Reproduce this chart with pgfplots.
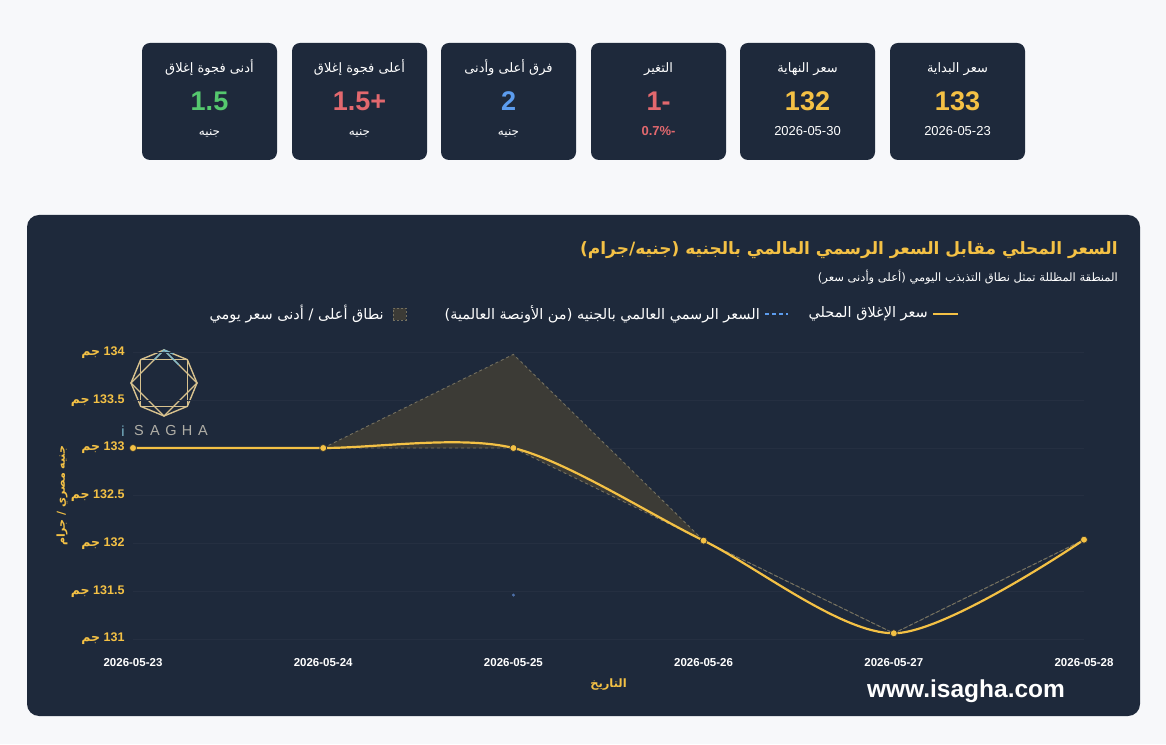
\documentclass[border=0pt]{standalone}
\usepackage{pgfplots}
\pgfplotsset{compat=1.18}
\usepackage{pgfplotstable}
\usetikzlibrary{calc}
\usepackage{fontspec}
\setmainfont{Liberation Sans}
\newfontfamily\ar[Script=Arabic]{DejaVu Sans}
\TeXXeTstate=1
\definecolor{pagebg}{HTML}{F7F8FA}
\definecolor{navy}{HTML}{1E293B}
\definecolor{gold}{HTML}{F4C145}
\definecolor{cred}{HTML}{E2686E}
\definecolor{cgreen}{HTML}{55C86E}
\definecolor{cblue}{HTML}{5C9CEE}
\definecolor{gridc}{HTML}{252F41}
\definecolor{bandfill}{HTML}{3C3B36}
\definecolor{bandedge}{HTML}{747060}
\definecolor{logoc}{HTML}{D8C28E}
\definecolor{logob}{HTML}{7DB9CC}
\definecolor{logot}{HTML}{B0AEA6}
\definecolor{globc}{HTML}{4D6FA8}
\newcommand\AR[1]{{\ar\beginR #1\endR}}
\newcommand\fs[1]{\fontsize{#1}{#1}\selectfont}

\pgfplotstableread{
x close
0 133
1 133
2 133
3 132.03
4 131.06
5 132.04
}\closetab
\pgfplotstableread{
x high low
1 133 133
2 133.98 133
3 132.03 132.03
4 131.06 131.06
5 132.04 132.04
}\bandtab
% band outline: high from left to right, then low from right to left
\pgfplotstableread{
x y
1 133
2 133.98
3 132.03
4 131.06
5 132.04
4 131.06
3 132.03
2 133
1 133
}\bandpoly

\newcommand\card[7]{%
  \fill[navy, rounded corners=8pt] (#1,584) rectangle ++(135,117);
  \node[white, anchor=base] at (#1+67.5,671) {\fs{13}#2};
  \node[#4, anchor=base] at (#1+67.5,633) {\fs{27}\bfseries #3};
  \node[#6, anchor=base] at (#1+67.5,608) {\fs{#7}#5};
}

\begin{document}
\begin{tikzpicture}
\begin{scope}[x=1pt,y=1pt]
\fill[pagebg] (0,0) rectangle (1166,744);
\useasboundingbox (0,0) rectangle (1166,744);
% cards
\card{142}{\AR{أدنى فجوة إغلاق}}{1.5}{cgreen}{\AR{جنيه}}{white}{12}
\card{292}{\AR{أعلى فجوة إغلاق}}{1.5+}{cred}{\AR{جنيه}}{white}{12}
\card{441}{\AR{فرق أعلى وأدنى}}{2}{cblue}{\AR{جنيه}}{white}{12}
\card{591}{\AR{التغير}}{1-}{cred}{\bfseries 0.7\%-}{cred}{13}
\card{740}{\AR{سعر النهاية}}{132}{gold}{2026-05-30}{white}{13}
\card{890}{\AR{سعر البداية}}{133}{gold}{2026-05-23}{white}{13}
% panel
\fill[navy, rounded corners=12pt] (27,28) rectangle (1140,529);
\node[anchor=east, gold, inner sep=0pt] at (1118,494) {\fs{17}\bfseries\AR{السعر المحلي مقابل السعر الرسمي العالمي بالجنيه (جنيه/جرام)}};
\node[anchor=east, white, inner sep=0pt] at (1118,467) {\fs{11.5}\AR{المنطقة المظللة تمثل نطاق التذبذب اليومي (أعلى وأدنى سعر)}};
% legend
\draw[gold, line width=2.5pt] (933,430) -- (958,430);
\node[anchor=east, white, inner sep=0pt] at (928,430) {\fs{14.5}\AR{سعر الإغلاق المحلي}};
\draw[cblue, line width=2pt, dash pattern=on 4pt off 3pt] (765,430) -- (788,430);
\node[anchor=east, white, inner sep=0pt] at (760,430) {\fs{14.5}\AR{السعر الرسمي العالمي بالجنيه (من الأونصة العالمية)}};
\fill[bandfill] (393,424) rectangle (406,436);
\draw[bandedge, dash pattern=on 2pt off 2pt] (393,424) rectangle (406,436);
\node[anchor=east, white, inner sep=0pt] at (384,430) {\fs{14.5}\AR{نطاق أعلى / أدنى سعر يومي}};
% logo
\begin{scope}[shift={(164,361)}, line width=1.4pt, logoc]
\draw (90:33) -- (135:33) -- (180:33) -- (225:33) -- (270:33) -- (315:33) -- (0:33) -- (45:33) -- cycle;
\draw (45:33) -- (135:33) -- (225:33) -- (315:33) -- cycle;
\draw (90:33) -- (180:33) -- (270:33) -- (0:33) -- cycle;
\draw[logob] (90:33) -- ($(90:33)!0.45!(0:33)$);
\draw[logob] (90:33) -- ($(90:33)!0.3!(180:33)$);
\draw[logob] (90:33) -- ($(90:33)!0.4!(45:33)$);
\end{scope}
\foreach \l/\xx in {S/139,A/155,G/171,H/187,A/203}{
  \node[logot] at (\xx,313) {\fs{14.5}\l};
}
\node[logob] at (123,313) {\fs{14.5}i};
\node[white] at (966,53) {\fs{24.5}\bfseries www.isagha.com};
\end{scope}

\begin{axis}[
  at={(133pt,105pt)}, anchor=south west,
  scale only axis, width=951pt, height=286.5pt,
  xmin=0, xmax=5, ymin=131, ymax=134,
  clip=false,
  axis line style={draw=none},
  tick style={draw=none},
  ymajorgrids,
  major grid style={gridc, line width=0.8pt},
  xtick={0,1,2,3,4,5},
  xticklabels={2026-05-23,2026-05-24,2026-05-25,2026-05-26,2026-05-27,2026-05-28},
  xticklabel style={white, font=\fs{11.5}\bfseries, yshift=-16pt},
  ytick={131,131.5,132,132.5,133,133.5,134},
  /pgf/number format/assume math mode=true,
  yticklabel={\AR{جم}\ \pgfmathprintnumber{\tick}},
  yticklabel style={gold, font=\fs{12.5}\bfseries, anchor=east, xshift=-5pt},
  xlabel={\AR{التاريخ}},
  xlabel style={gold, font=\fs{11.5}\bfseries, at={(axis description cs:0.5,0)}, anchor=center, yshift=-46pt},
  ylabel={\ar\beginR جنيه مصري / جرام\endR},
  ylabel style={gold, font=\fs{11}\bfseries, at={(axis description cs:0,0.5)}, anchor=center, yshift=71pt},
]
\addplot[fill=bandfill, draw=none] table[x=x,y=y]{\bandpoly} -- cycle;
\addplot[bandedge, line width=0.9pt, dash pattern=on 3pt off 3pt] table[x=x,y=high]{\bandtab};
\addplot[bandedge, line width=0.9pt, dash pattern=on 3pt off 3pt] table[x=x,y=low]{\bandtab};
\addplot[only marks, mark=*, mark size=1.3pt, globc] coordinates {(2,131.46)};
\addplot[gold, line width=2.2pt, smooth, tension=0.5, mark=*, mark size=3.5pt,
  mark options={fill=gold, draw=black!80, line width=0.7pt}] table[x=x,y=close]{\closetab};
\end{axis}
\end{tikzpicture}
\end{document}
